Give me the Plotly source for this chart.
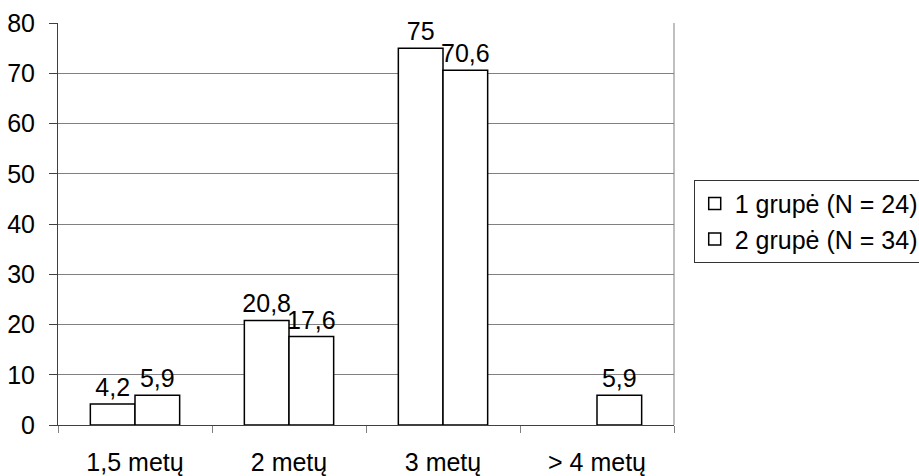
import plotly.graph_objects as go

# Study duration categories and share (%) for each group
categories = ["1,5 metų", "2 metų", "3 metų", "> 4 metų"]
group1_name = "1 grupė (N = 24)"
group2_name = "2 grupė (N = 34)"
group1 = [4.2, 20.8, 75, None]
group2 = [5.9, 17.6, 70.6, 5.9]
y_ticks = [0, 10, 20, 30, 40, 50, 60, 70, 80]

FONT = "Liberation Sans, Arial, sans-serif"
FS = 25


def fmt(v):
    # Lithuanian decimal comma
    return "" if v is None else f"{v:g}".replace(".", ",")


fig = go.Figure()
for name, vals in [(group1_name, group1), (group2_name, group2)]:
    fig.add_trace(go.Bar(
        x=categories,
        y=vals,
        name=name,
        marker=dict(color="white", line=dict(color="black", width=1.5)),
        text=[fmt(v) for v in vals],
        textposition="outside",
        constraintext="none",
        textfont=dict(family=FONT, size=FS, color="black"),
        cliponaxis=False,
    ))

fig.update_layout(
    width=919,
    height=476,
    margin=dict(l=58, r=245, t=23, b=51, autoexpand=False),
    paper_bgcolor="white",
    plot_bgcolor="white",
    barmode="group",
    bargap=0.42,
    bargroupgap=0,
    font=dict(family=FONT, size=FS, color="black"),
    showlegend=True,
    legend=dict(
        x=1.032, y=0.61, xanchor="left", yanchor="top",
        bordercolor="#333333", borderwidth=1,
        font=dict(family=FONT, size=FS, color="black"),
        itemwidth=30,
        traceorder="normal",
    ),
    xaxis=dict(
        type="category",
        showline=True, linecolor="#404040", linewidth=1,
        ticks="outside", tickson="boundaries", ticklen=7,
        tickcolor="#808080", tickwidth=1,
        showgrid=False,
        ticklabelstandoff=15,
        automargin=False,
        tickfont=dict(family=FONT, size=FS, color="black"),
    ),
    yaxis=dict(
        range=[0, 80],
        tickvals=y_ticks,
        showline=True, linecolor="#404040", linewidth=1,
        ticks="outside", ticklen=8, tickcolor="#404040", tickwidth=1,
        showgrid=True, gridcolor="#808080", gridwidth=1,
        zeroline=False,
        ticklabelstandoff=9,
        automargin=False,
        tickfont=dict(family=FONT, size=FS, color="black"),
    ),
    shapes=[dict(type="line", xref="paper", yref="paper",
                 x0=1, x1=1, y0=0, y1=1,
                 line=dict(color="#808080", width=1))],
)

fig.write_html("out.html")
